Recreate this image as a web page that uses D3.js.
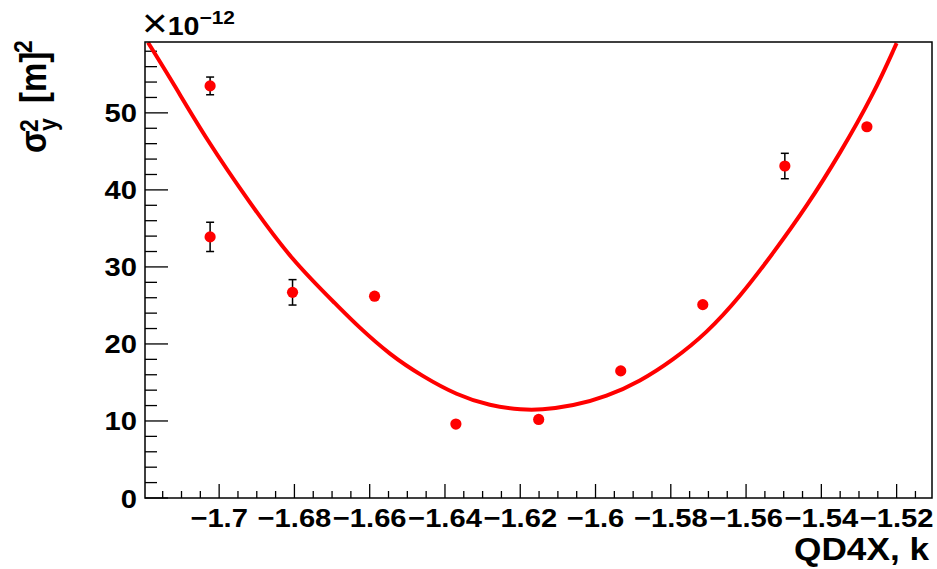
<!DOCTYPE html>
<html>
<head>
<meta charset="utf-8">
<script src="https://cdn.jsdelivr.net/npm/d3@7"></script>
<style>
  body { margin: 0; background: #fff; }
  text { font-family: "Liberation Sans", Arial, sans-serif; font-weight: bold; fill: #000; }
</style>
</head>
<body>
<svg id="chart" width="937" height="569"></svg>
<script>
// measured points (x = QD4X k, y = sigma_y^2 in units of 1e-12 m^2)
const kValues = [-1.7024, -1.7024, -1.6805, -1.6587, -1.6371, -1.6151, -1.5933, -1.5715, -1.5497, -1.5279];
const sigmaValues = [53.5, 33.9, 26.7, 26.2, 9.6, 10.2, 16.5, 25.1, 43.1, 48.2];
const sigmaErrors = [1.15, 1.9, 1.65, 0.5, 0.3, 0.3, 0.4, 0.5, 1.65, 0.5];

// fitted curve
const fitK = [-1.7189, -1.7122, -1.7033, -1.6918, -1.6808, -1.6679, -1.6635, -1.6546, -1.6458, -1.6369,
              -1.6281, -1.6192, -1.6148, -1.6059, -1.5971, -1.5882, -1.5794, -1.5705, -1.5616, -1.5528,
              -1.5439, -1.5350, -1.5262, -1.5200];
const fitSigma = [59.13, 53.86, 46.49, 38.27, 30.91, 24.64, 22.47, 18.57, 15.75, 13.38,
                  11.95, 11.43, 11.43, 11.95, 13.16, 15.13, 17.92, 21.39, 26.14, 31.78,
                  37.83, 44.76, 52.34, 59.05];

const xTicks = [-1.7, -1.68, -1.66, -1.64, -1.62, -1.6, -1.58, -1.56, -1.54, -1.52];
const yTicks = [0, 10, 20, 30, 40, 50];

const frameL = 145, frameR = 932, frameT = 42, frameB = 498;
const stretch = 1.1; // the root canvas text comes out a bit wide

let svg = d3.select("#chart");

let x = d3.scaleLinear().domain([-1.7197, -1.5106]).range([frameL, frameR]);
let y = d3.scaleLinear().domain([0, 59.2]).range([frameB, frameT]);

svg.append("defs").append("clipPath")
  .attr("id", "frameClip")
  .append("rect")
  .attr("x", frameL).attr("y", frameT)
  .attr("width", frameR - frameL).attr("height", frameB - frameT);

function wideText(parent, px, py, size, anchor, str) {
  return parent.append("text")
    .attr("transform", "translate(" + px + "," + py + ") scale(" + stretch + ",1)")
    .attr("text-anchor", anchor)
    .style("font-size", size + "px")
    .text(str);
}

// minor ticks: 4 subdivisions on x, 5 on y
let xMinor = d3.range(Math.ceil(x.domain()[0] / 0.005), Math.floor(x.domain()[1] / 0.005) + 1)
  .map(i => i * 0.005);
let yMinor = d3.range(0, 60, 2);

let ticks = svg.append("g").attr("stroke", "#000").attr("stroke-width", 1.3);

ticks.selectAll(".xt")
  .data(xMinor)
  .enter().append("line")
  .attr("x1", d => x(d)).attr("x2", d => x(d))
  .attr("y1", frameB)
  .attr("y2", d => Math.abs(Math.round(d * 50) - d * 50) < 1e-6 ? frameB - 14 : frameB - 7);

ticks.selectAll(".yt")
  .data(yMinor)
  .enter().append("line")
  .attr("y1", d => y(d)).attr("y2", d => y(d))
  .attr("x1", frameL)
  .attr("x2", d => d % 10 === 0 ? frameL + 23 : frameL + 12);

// tick labels
xTicks.forEach(function(v) {
  wideText(svg, x(v), 527, 26.5, "middle", "\u2212" + String(Math.abs(v)));
});
yTicks.forEach(function(v) {
  wideText(svg, 137, y(v) + 9.5, 26.5, "end", String(v));
});

// exponent label
let expo = svg.append("text")
  .attr("transform", "translate(142,35) scale(" + stretch + ",1)")
  .style("font-size", "26px");
expo.append("tspan").style("font-weight", "normal").style("font-size", "40px").attr("dy", 2).text("\u00d7");
expo.append("tspan").attr("dy", -2).text("10");
expo.append("tspan").attr("dy", -11).style("font-size", "19px").text("\u221212");

// axis titles
wideText(svg, 929, 560, 32, "end", "QD4X, k");

let ytitle = svg.append("g").attr("transform", "translate(46,153) rotate(-90) scale(1," + stretch + ")");
ytitle.append("text").attr("x", 0).attr("y", 0).style("font-size", "33px").text("\u03c3");
ytitle.append("text").attr("x", 22).attr("y", 10).style("font-size", "23px").text("y");
ytitle.append("text").attr("x", 21).attr("y", -7).style("font-size", "23px").text("2");
ytitle.append("text").attr("x", 50).attr("y", 0).style("font-size", "33px").text("[m]");
ytitle.append("text").attr("x", 100).attr("y", -13).style("font-size", "23px").text("2");

// fit curve
let fitLine = d3.line()
  .x((d, i) => x(fitK[i]))
  .y(d => y(d))
  .curve(d3.curveBasis);

svg.append("path")
  .attr("clip-path", "url(#frameClip)")
  .attr("d", fitLine(fitSigma))
  .attr("fill", "none")
  .attr("stroke", "#ff0000")
  .attr("stroke-width", 4);

// error bars, only where they poke out of the marker
const markerR = 5.6;
let bars = svg.append("g").attr("stroke", "#000").attr("stroke-width", 1.5);
sigmaValues.forEach(function(v, i) {
  let yHi = y(v + sigmaErrors[i]), yLo = y(v - sigmaErrors[i]);
  if (y(v) - yHi <= markerR) return;
  let cx = x(kValues[i]);
  bars.append("line").attr("x1", cx).attr("x2", cx).attr("y1", yHi).attr("y2", yLo);
  bars.append("line").attr("x1", cx - 4).attr("x2", cx + 4).attr("y1", yHi).attr("y2", yHi);
  bars.append("line").attr("x1", cx - 4).attr("x2", cx + 4).attr("y1", yLo).attr("y2", yLo);
});

svg.selectAll(".pt")
  .data(sigmaValues)
  .enter().append("circle")
  .attr("cx", (d, i) => x(kValues[i]))
  .attr("cy", d => y(d))
  .attr("r", markerR)
  .attr("fill", "#ff0000");

// frame
svg.append("rect")
  .attr("x", frameL).attr("y", frameT)
  .attr("width", frameR - frameL).attr("height", frameB - frameT)
  .attr("fill", "none")
  .attr("stroke", "#000")
  .attr("stroke-width", 1.5);
</script>
</body>
</html>
